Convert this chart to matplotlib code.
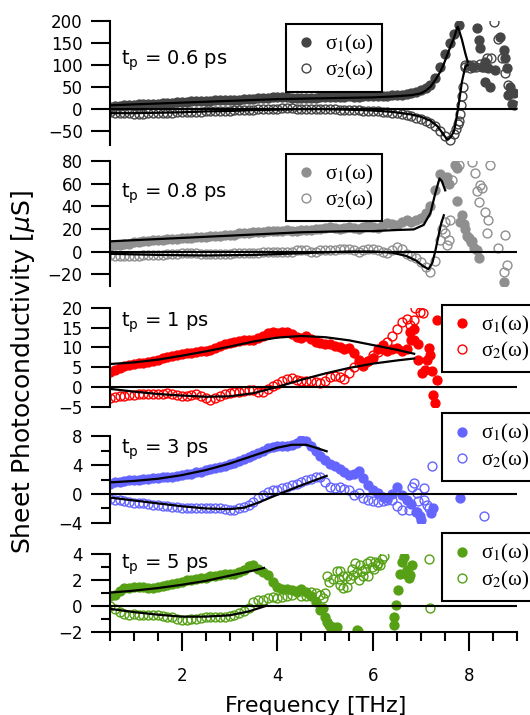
import matplotlib
matplotlib.use("Agg")
import matplotlib.pyplot as plt
from matplotlib.ticker import MultipleLocator, FixedLocator
from matplotlib.font_manager import FontProperties

# frequency grid of the dense part of every spectrum [THz]
FREQ = [0.5, 0.6, 0.7, 0.8, 0.9, 1.0, 1.1, 1.2, 1.3, 1.4,
        1.5, 1.6, 1.7, 1.8, 1.9, 2.0, 2.1, 2.2, 2.3, 2.4,
        2.5, 2.6, 2.7, 2.8, 2.9, 3.0, 3.1, 3.2, 3.3, 3.4,
        3.5, 3.6, 3.7, 3.8, 3.9, 4.0, 4.1, 4.2, 4.3, 4.4,
        4.5, 4.6, 4.7, 4.8, 4.9, 5.0, 5.1, 5.2, 5.3, 5.4,
        5.5, 5.6, 5.7, 5.8, 5.9, 6.0, 6.1, 6.2, 6.3, 6.4,
        6.5, 6.6, 6.7, 6.8, 6.9, 7.0, 7.1, 7.2, 7.3, 7.4,
        7.5, 7.6, 7.7, 7.8]

# ---- t_p = 0.6 ps
P1_S1 = [5, 6, 7, 8, 8, 9, 10, 10, 11, 12,
         12, 13, 14, 14, 15, 16, 16, 17, 17, 17,
         18, 18, 19, 19, 20, 20, 21, 21, 22, 22,
         23, 24, 25, 25, 26, 27, 27, 26, 25, 25,
         24, 24, 25, 25, 26, 26, 26, 27, 27, 27,
         28, 27, 27, 28, 28, 29, 29, 30, 30, 31,
         31, 32, 34, 36, 39, 43, 48, 55, 70, 95,
         125, 150, 170, 190]
P1_S2 = [-8, -9, -10, -10, -10, -11, -11, -11, -10, -10,
         -10, -9, -9, -9, -8, -8, -8, -7, -7, -7,
         -6, -6, -5, -5, -4, -4, -3, -3, -3, -2,
         -2, -1, -1, 0, 0, 0, 1, 1, 1, 0,
         0, 0, 0, 0, -1, -1, -1, -1, -2, -2,
         -2, -3, -3, -4, -4, -5, -6, -7, -8, -9,
         -10, -12, -14, -17, -20, -24, -28, -33, -40, -50,
         -62, -70, -58]
P1_S1_XF = [8.0, 8.1, 8.18, 8.22, 8.24, 8.28, 8.35, 8.35, 8.41, 8.45, 8.55,
            8.66, 8.73, 8.76, 8.8, 8.83, 8.87, 8.9, 8.94]
P1_S1_XV = [100, 95, 183, 157, 138, 96, 107, 62, 92, 50, 88,
            164, 134, 115, 92, 31, 50, 12, 35]
P1_S2_XF = [7.74, 7.77, 7.8, 7.82, 7.84, 7.86, 7.89, 7.92, 7.93, 8.02, 8.09,
            8.16, 8.24, 8.31, 8.38, 8.47, 8.52, 8.62, 8.69, 8.76, 8.83, 8.94]
P1_S2_XV = [-45, -35, -28, -12, 9, 30, 50, 96, 100, 92, 100,
            96, 103, 96, 115, 115, 197, 160, 115, 81, 54, 9]
P1_FIT1_F = [0.5, 1.0, 1.5, 2.0, 2.5, 3.0, 3.5, 4.0, 4.5, 5.0, 5.5, 6.0, 6.4, 6.8, 7.0,
             7.1, 7.2, 7.3, 7.41, 7.48, 7.55, 7.62, 7.69, 7.74, 7.77, 7.81, 7.86, 7.93, 7.98]
P1_FIT1 = [8, 10, 12, 14, 16, 18, 20, 22, 23, 24, 25, 26, 28, 31, 35,
           41, 50, 65, 85, 102, 122, 142, 160, 178, 187, 175, 157, 126, 107]
P1_FIT2_F = [0.5, 1.0, 1.5, 2.0, 2.5, 3.0, 3.5, 4.0, 4.5, 5.0, 5.5, 6.0, 6.4, 6.8, 7.0,
             7.2, 7.35, 7.45, 7.55, 7.62, 7.69, 7.74, 7.79, 7.86, 7.93, 7.98]
P1_FIT2 = [-10, -10, -9, -8, -6, -5, -3, -2, -1, -1, -2, -4, -7, -13, -18,
           -27, -40, -55, -70, -65, -52, -25, 9, 62, 96, 100]

# ---- t_p = 0.8 ps
P2_S1 = [5, 6, 6, 7, 7, 8, 8, 9, 9, 10,
         10, 10, 11, 11, 11, 12, 12, 12, 13, 13,
         13, 14, 14, 14, 15, 15, 15, 16, 16, 16,
         17, 17, 17, 18, 18, 18, 18, 19, 18, 18,
         19, 19, 19, 20, 20, 21, 22, 21, 20, 21,
         22, 21, 20, 22, 23, 22, 21, 23, 25, 24,
         23, 26, 28, 26, 28, 30, 34, 40, 54, 68,
         64]
P2_S2 = [-3, -4, -4, -4, -4, -4, -4, -3, -3, -3,
         -3, -3, -2, -2, -2, -1, -1, -1, -1, -2,
         -2, -2, -2, -2, -2, -2, -1, -1, -1, -1,
         -1, -1, 0, 0, 0, 0, 0, 0, 0, 1,
         1, 1, 0, 0, 1, 1, 1, 1, 2, 2,
         2, 1, 0, 1, 2, 2, 1, 0, -1, 1,
         4, 2, -2, -4, -6, -9, -14, -18, -8, 10]
P2_S1_XF = [7.54, 7.58, 7.72, 7.75, 7.76, 7.82, 7.86, 7.9, 7.93, 7.97, 8.0,
            8.05, 8.07, 8.12, 8.18, 8.21, 8.74]
P2_S1_XV = [66, 60, 76, 74, 45, 26, 32, 24, 20, 14, 12,
            8, 9, 3, 1, -6, -27]
P2_S2_XF = [7.45, 7.5, 7.51, 7.54, 7.58, 7.61, 7.65, 7.79, 8.07, 8.14, 8.17,
            8.21, 8.24, 8.28, 8.35, 8.38, 8.41, 8.45, 8.62, 8.73, 8.76, 8.8]
P2_S2_XV = [20, 26, 16, 6, 10, 28, 63, 76, 79, 69, 53,
            44, 59, 56, 35, 16, 28, 76, 3, -18, 15, -12]
P2_FIT1_F = [0.5, 1.0, 1.5, 2.0, 2.5, 3.0, 3.5, 4.0, 4.5, 5.0, 5.5, 6.0, 6.5, 6.85,
             7.06, 7.2, 7.3, 7.39, 7.44, 7.51]
P2_FIT1 = [9, 10, 11, 12, 13, 14, 15, 16, 17, 17.5, 18, 18, 19, 19.5,
           23.5, 34, 51, 64.5, 62, 54]
P2_FIT2_F = [0.5, 1.5, 2.5, 3.5, 4.5, 5.5, 6.0, 6.4, 6.7, 6.9, 7.05, 7.16, 7.24,
             7.3, 7.36, 7.42, 7.48]
P2_FIT2 = [-2, -3, -3.5, -3, -1.5, 0, 0, -1, -4, -8, -13, -15.5, -10,
           0, 12, 24, 32]

# ---- t_p = 1 ps
P3_S1 = [3.8, 4.3, 4.8, 5.2, 5.5, 5.8, 6.0, 6.1, 6.3, 6.6,
         6.9, 7.3, 7.6, 7.9, 8.2, 8.4, 8.5, 8.6, 8.8, 9.0,
         9.2, 9.4, 9.8, 10.4, 10.9, 11.2, 11.4, 11.6, 11.8, 11.9,
         12.0, 12.3, 12.8, 13.6, 13.9, 13.7, 13.9, 14.0, 13.4, 12.6,
         12.3, 12.8, 12.2, 11.4, 11.0, 10.8, 10.9, 10.4, 10.0, 9.6,
         9.8, 8.6, 6.8, 5.6, 6.5, 7.4, 9.5, 10.6, 9.0, 9.6,
         9.8, 9.0, 9.5, 12.0]
P3_S2 = [-2.8, -2.6, -2.4, -2.2, -2.1, -2.0, -1.9, -1.8, -1.8, -1.8,
         -1.8, -1.7, -1.6, -1.8, -2.0, -2.2, -2.2, -2.0, -1.9, -2.2,
         -2.8, -3.2, -2.8, -2.2, -1.8, -1.6, -1.4, -1.2, -1.0, -0.8,
         -0.8, -1.2, -1.2, -0.5, 0.2, 0.8, 1.4, 2.0, 2.2, 1.8,
         1.5, 1.4, 1.5, 1.2, 1.0, 1.5, 2.5, 2.8, 2.4, 2.0,
         3.5, 5.0, 6.0, 5.4, 6.5, 8.2, 8.8, 9.5, 11.5, 12.8,
         14.8, 16.5, 17.2]
P3_S1_XF = [6.78, 6.85, 6.85, 6.93, 6.95, 7.02, 7.09, 7.13, 7.16, 7.19, 7.23,
            7.26, 7.3, 7.33, 7.33]
P3_S1_XV = [14.0, 11.9, 14.8, 10.8, 6.8, 3.4, 4.3, 6.8, 9.8, 8.1, 3.9,
            -2.0, -4.2, 1.7, 17.0]
P3_S2_XF = [6.78, 6.85, 6.88, 6.99, 7.05]
P3_S2_XV = [15.7, 17.0, 19.9, 19.0, 18.7]
P3_FIT_F = [0.5, 1.0, 1.5, 2.0, 2.5, 3.0, 3.5, 4.0, 4.5, 5.0, 5.5, 6.0, 6.5, 6.86]
P3_FIT1 = [5.8, 6.2, 6.9, 7.9, 9.0, 10.2, 11.5, 12.5, 12.9, 12.6, 11.8, 10.6, 9.4, 8.4]
P3_FIT2 = [-0.5, -1.2, -1.8, -2.2, -2.5, -2.4, -1.6, 0.0, 1.8, 3.4, 4.8, 5.9, 6.7, 7.2]

# ---- t_p = 3 ps
P4_S1 = [1.4, 1.6, 1.7, 1.8, 1.9, 2.0, 2.0, 2.1, 2.1, 2.2,
         2.2, 2.3, 2.3, 2.4, 2.5, 2.6, 2.7, 2.8, 3.0, 3.1,
         3.3, 3.4, 3.6, 3.7, 3.9, 4.1, 4.3, 4.6, 4.9, 5.1,
         5.4, 5.7, 6.0, 6.3, 6.5, 6.6, 6.6, 6.7, 6.8, 7.1,
         7.4, 7.3, 6.6, 5.9, 5.3, 4.7, 4.2, 3.8, 3.4, 3.0,
         2.6, 2.7, 3.2, 2.2, 1.3, 0.6, 0.1, -0.4, -0.5, 0.0,
         1.0, -0.2, -0.8]
P4_S2 = [-0.7, -0.8, -0.9, -1.0, -1.1, -1.2, -1.3, -1.3, -1.4, -1.5,
         -1.5, -1.6, -1.7, -1.8, -1.8, -1.9, -2.0, -2.0, -2.0, -2.0,
         -2.0, -1.9, -1.9, -2.0, -2.1, -2.2, -2.2, -2.0, -1.8, -1.5,
         -1.1, -0.6, -0.2, 0.3, 0.6, 0.6, 0.8, 1.0, 1.2, 1.4,
         1.6, 1.9, 2.1, 2.3, 2.3, 1.6, 1.0, 0.8, 1.0, 0.7,
         0.5, -0.2, 0.2, -0.6, -0.9, -1.0, -1.1, -1.0, -0.8, -0.9,
         -1.6, -2.2]
P4_S1_XF = [6.8, 6.9, 6.98, 7.0, 7.22, 7.26, 7.82]
P4_S1_XV = [-1.4, -2.5, -3.0, -3.6, -2.7, -2.0, -0.6]
P4_S2_XF = [6.75, 6.82, 6.85, 6.92, 6.92, 6.95, 7.06, 7.06, 7.13, 7.16, 7.23, 8.32]
P4_S2_XV = [-2.2, 1.0, 1.5, 0.1, -2.5, -1.0, 0.8, -0.8, -1.5, -2.0, 3.8, -3.1]
P4_FIT1_F = [0.5, 1.0, 1.5, 2.0, 2.5, 3.0, 3.5, 4.0, 4.3, 4.6, 4.8, 5.03]
P4_FIT1 = [1.6, 1.8, 2.1, 2.6, 3.3, 4.2, 5.3, 6.4, 6.8, 6.8, 6.4, 5.9]
P4_FIT2_F = [0.5, 1.0, 1.5, 2.0, 2.5, 3.0, 3.3, 3.6, 4.0, 4.5, 5.03]
P4_FIT2 = [-0.5, -0.9, -1.3, -1.7, -2.0, -2.1, -1.9, -1.2, -0.1, 1.2, 2.5]

# ---- t_p = 5 ps
P5_S1 = [0.8, 0.9, 1.2, 1.4, 1.4, 1.45, 1.5, 1.5, 1.4, 1.4,
         1.5, 1.55, 1.6, 1.7, 1.8, 1.9, 2.0, 2.05, 2.1, 2.15,
         2.2, 2.3, 2.35, 2.4, 2.45, 2.5, 2.5, 2.6, 2.8, 3.1,
         3.2, 2.9, 2.6, 2.4, 1.9, 1.5, 1.3, 1.3, 1.25, 1.2,
         1.3, 1.1, 0.8, 0.3, -0.3]
P5_S2 = [0.0, -0.2, -0.45, -0.6, -0.65, -0.6, -0.65, -0.7, -0.7, -0.65,
         -0.7, -0.75, -0.8, -0.85, -0.95, -1.05, -1.05, -1.0, -0.95, -0.9,
         -0.85, -0.85, -0.8, -0.8, -0.85, -0.75, -0.65, -0.55, -0.4, -0.1,
         0.3, 0.5, 0.45, 0.65, 0.7, 0.6, 0.7, 0.75, 0.9, 1.1,
         0.8, 0.75, 1.1, 1.0, 0.9]
P5_S1_XF = [4.96, 5.0, 5.04, 5.07, 5.12, 5.17, 5.24, 5.66, 5.69, 6.43, 6.44,
            6.48, 6.53, 6.57, 6.6, 6.64, 6.68, 6.71, 6.75, 6.78, 6.81]
P5_S1_XV = [-0.15, -0.8, -1.2, -1.45, -1.7, -1.6, -1.6, -1.8, -1.9, -1.45, -0.8,
            0.1, 1.25, 2.5, 3.4, 3.8, 2.5, 2.8, 2.2, 2.4, 3.2]
P5_S2_XF = [4.95, 5.0, 5.03, 5.07, 5.17, 5.24, 5.28, 5.31, 5.31, 5.38, 5.38, 5.45,
            5.45, 5.52, 5.56, 5.59, 5.63, 5.66, 5.7, 5.73, 5.77, 5.8, 5.84, 5.87,
            5.9, 5.94, 5.97, 6.01, 6.04, 6.08, 6.11, 6.15, 6.18, 6.22, 7.16, 7.2]
P5_S2_XV = [0.6, 1.0, 2.3, 1.9, 2.1, 2.7, 2.1, 1.6, 2.7, 1.4, 2.3, 1.5,
            2.3, 2.1, 2.9, 2.4, 3.3, 2.6, 2.0, 3.2, 2.7, 2.3, 2.9, 3.3,
            2.3, 3.5, 3.0, 2.9, 3.4, 3.2, 3.3, 3.2, 3.6, 3.9, 3.6, -0.15]
P5_FIT1_F = [0.5, 1.0, 1.5, 2.0, 2.5, 3.0, 3.5, 3.72]
P5_FIT1 = [1.05, 1.2, 1.4, 1.65, 1.95, 2.35, 2.75, 2.95]
P5_FIT2_F = [0.5, 1.0, 1.5, 2.0, 2.5, 3.0, 3.4, 3.78]
P5_FIT2 = [-0.2, -0.45, -0.65, -0.8, -0.8, -0.7, -0.4, 0.05]

LABELS = ["0.6", "0.8", "1", "3", "5"]
COLORS = ["#454545", "#8f8f8f", "#ff0000", "#6464ff", "#55a014"]

panels = [
    dict(s1=P1_S1, s2=P1_S2, s1x=(P1_S1_XF, P1_S1_XV), s2x=(P1_S2_XF, P1_S2_XV),
         fit1=(P1_FIT1_F, P1_FIT1), fit2=(P1_FIT2_F, P1_FIT2),
         ylim=(-82, 200), major=[-50, 0, 50, 100, 150, 200], minor=[],
         px=(20.95, 144.8), text_y=65, leg=(286, 23.6)),
    dict(s1=P2_S1, s2=P2_S2, s1x=(P2_S1_XF, P2_S1_XV), s2x=(P2_S2_XF, P2_S2_XV),
         fit1=(P2_FIT1_F, P2_FIT1), fit2=(P2_FIT2_F, P2_FIT2),
         ylim=(-30, 80), major=[-20, 0, 20, 40, 60, 80], minor=[],
         px=(160.9, 285.5), text_y=197.4, leg=(286, 153.5)),
    dict(s1=P3_S1, s2=P3_S2, s1x=(P3_S1_XF, P3_S1_XV), s2x=(P3_S2_XF, P3_S2_XV),
         fit1=(P3_FIT_F, P3_FIT1), fit2=(P3_FIT_F, P3_FIT2),
         ylim=(-5, 20), major=[-5, 0, 5, 10, 15, 20], minor=[],
         px=(308.0, 406.6), text_y=327, leg=(442, 304.5)),
    dict(s1=P4_S1, s2=P4_S2, s1x=(P4_S1_XF, P4_S1_XV), s2x=(P4_S2_XF, P4_S2_XV),
         fit1=(P4_FIT1_F, P4_FIT1), fit2=(P4_FIT2_F, P4_FIT2),
         ylim=(-4, 8), major=[-4, 0, 4, 8], minor=[-2, 2, 6],
         px=(436.1, 522.9), text_y=453.6, leg=(442, 413)),
    dict(s1=P5_S1, s2=P5_S2, s1x=(P5_S1_XF, P5_S1_XV), s2x=(P5_S2_XF, P5_S2_XV),
         fit1=(P5_FIT1_F, P5_FIT1), fit2=(P5_FIT2_F, P5_FIT2),
         ylim=(-2, 4), major=[-2, 0, 2, 4], minor=[-1, 1, 3],
         px=(554.3, 632.2), text_y=568.5, leg=(442, 533)),
]

W, H = 530, 715
fig = plt.figure(figsize=(W / 100, H / 100), dpi=100)
leg_font = FontProperties(family="Liberation Serif", size=15, math_fontfamily="stix")
X0, X1 = 110, 516.5
MS = 6.4

for i, p in enumerate(panels):
    top, bot = p["px"]
    ax = fig.add_axes([X0 / W, 1 - bot / H, (X1 - X0) / W, (bot - top) / H])
    col = COLORS[i]
    n1, n2 = len(p["s1"]), len(p["s2"])
    h1, = ax.plot(FREQ[:n1] + p["s1x"][0], p["s1"] + p["s1x"][1], "o", ms=MS,
                  color=col, mec=col, zorder=2)
    h2, = ax.plot(FREQ[:n2] + p["s2x"][0], p["s2"] + p["s2x"][1], "o", ms=MS,
                  mfc="none", mec=col, mew=1.0, zorder=2)
    ax.axhline(0, color="k", lw=1.5, zorder=3)
    ax.plot(*p["fit1"], color="k", lw=1.6, zorder=4)
    ax.plot(*p["fit2"], color="k", lw=1.6, zorder=4)

    ax.set_xlim(0.5, 9.0)
    ax.set_ylim(*p["ylim"])
    ax.yaxis.set_major_locator(FixedLocator(p["major"]))
    ax.yaxis.set_minor_locator(FixedLocator(p["minor"]))
    for s in ["top", "right"]:
        ax.spines[s].set_visible(False)
    ax.spines["left"].set_linewidth(1.5)
    ax.tick_params(axis="y", which="major", direction="out", length=13.7, width=1.5,
                   labelsize=12, pad=6)
    ax.tick_params(axis="y", which="minor", direction="out", length=6.8, width=1.5)
    if i < len(panels) - 1:
        ax.spines["bottom"].set_visible(False)
        ax.tick_params(axis="x", which="both", bottom=False, labelbottom=False)
    else:
        ax.spines["bottom"].set_linewidth(1.5)
        ax.xaxis.set_major_locator(FixedLocator([2, 4, 6, 8]))
        ax.xaxis.set_minor_locator(MultipleLocator(0.5))
        ax.tick_params(axis="x", which="major", direction="out", length=13.7, width=1.5,
                       labelsize=12, pad=11)
        ax.tick_params(axis="x", which="minor", direction="out", length=6.8, width=1.5)
    ax.patch.set_visible(False)

    fig.text(121 / W, 1 - p["text_y"] / H, r"t$_\mathrm{p}$ = %s ps" % LABELS[i],
             fontsize=14, va="baseline", ha="left", math_fontfamily="dejavusans")

    lg = ax.legend([h1, h2], ["σ$_1$(ω)", "σ$_2$(ω)"], loc="upper left",
                   bbox_to_anchor=(p["leg"][0] / W, 1 - p["leg"][1] / H),
                   bbox_transform=fig.transFigure, borderaxespad=0, prop=leg_font,
                   fancybox=False, framealpha=1, edgecolor="k", borderpad=0.45,
                   handlelength=1.0, handletextpad=0.4, labelspacing=0.15)
    lg.get_frame().set_linewidth(1.5)
    lg.set_zorder(10)

fig.text(23 / W, 1 - 371.5 / H, "Sheet Photoconductivity [$\\mu$S]", rotation=90,
         fontsize=18, ha="center", va="center", math_fontfamily="dejavusans")
fig.text(316 / W, 1 - 712 / H, "Frequency [THz]", fontsize=16, ha="center",
         va="baseline")

fig.savefig("out.png", dpi=100)
